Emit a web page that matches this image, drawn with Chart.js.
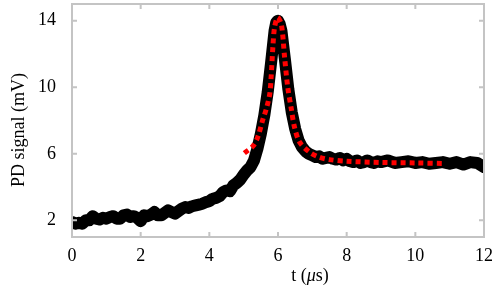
<!DOCTYPE html>
<html>
<head>
<meta charset="utf-8">
<script src="https://cdn.jsdelivr.net/npm/chart.js@4"></script>
<style>
  body { margin: 0; background: #fff; }
</style>
</head>
<body>
<canvas id="chart1" width="498" height="288"></canvas>
<script>
// measured PD signal (black) and fit (red dotted)
const tData = [0, 0.1, 0.2, 0.3, 0.4, 0.5, 0.6, 0.7, 0.8, 0.9,
    1.0, 1.1, 1.2, 1.3, 1.4, 1.5, 1.6, 1.7, 1.8, 1.9,
    2.0, 2.1, 2.2, 2.3, 2.4, 2.5, 2.6, 2.7, 2.8, 2.9,
    3.0, 3.1, 3.2, 3.3, 3.4, 3.5, 3.6, 3.7, 3.8, 3.9,
    4.0, 4.1, 4.2, 4.3, 4.4, 4.5, 4.6, 4.7, 4.8, 4.9,
    5.0, 5.1, 5.2, 5.3, 5.4, 5.5, 5.6, 5.7, 5.8, 5.9, 5.95,
    6.0, 6.05, 6.1, 6.2, 6.3, 6.4, 6.5, 6.6, 6.7, 6.8, 6.9,
    7.0, 7.1, 7.2, 7.3, 7.4, 7.5, 7.6, 7.7, 7.8, 7.9,
    8.0, 8.1, 8.2, 8.3, 8.4, 8.5, 8.6, 8.7, 8.8, 8.9,
    9.0, 9.2, 9.4, 9.6, 9.8, 10.0, 10.2, 10.4, 10.6, 10.8,
    11.0, 11.2, 11.4, 11.6, 11.8, 12.0]
const signal = [1.9, 1.8, 1.85, 1.8, 2.0, 2.0, 2.25, 2.1, 2.05, 2.15,
    2.1, 2.2, 2.25, 2.1, 2.1, 2.3, 2.35, 2.2, 2.25, 2.15,
    1.95, 2.3, 2.25, 2.35, 2.5, 2.3, 2.3, 2.45, 2.6, 2.5,
    2.4, 2.55, 2.7, 2.8, 2.75, 2.85, 2.9, 2.95, 3.0, 3.1,
    3.15, 3.3, 3.35, 3.45, 3.7, 3.8, 3.75, 4.1, 4.25, 4.45,
    4.75, 5.0, 5.2, 5.6, 6.3, 7.2, 8.3, 9.7, 11.5, 13.4, 13.9,
    14.0, 13.8, 13.4, 11.7, 9.9, 8.5, 7.5, 6.8, 6.4, 6.15, 6.0,
    5.9, 5.8, 5.85, 5.7, 5.75, 5.8, 5.7, 5.65, 5.75, 5.6,
    5.7, 5.55, 5.5, 5.6, 5.45, 5.5, 5.6, 5.5, 5.45, 5.55,
    5.5, 5.6, 5.45, 5.5, 5.55, 5.45, 5.5, 5.4, 5.45, 5.5,
    5.4, 5.5, 5.35, 5.5, 5.45, 5.2]

const tFit = [5.02, 5.27, 5.41, 5.56, 5.66, 5.76, 5.8, 5.85, 5.9, 5.99,
    6.1, 6.19, 6.28, 6.39, 6.48, 6.63, 6.92, 7.2, 7.5, 8.0, 9.0, 10.0, 10.85]
const fit = [6.04, 6.46, 7.0, 8.07, 8.7, 9.6, 10.6, 12.4, 13.6, 14.2,
    13.75, 11.85, 10.06, 8.67, 7.6, 6.7, 6.1, 5.8, 5.65, 5.55, 5.48, 5.45, 5.42]

const xTicks = [0, 2, 4, 6, 8, 10, 12]
const yTicks = [2, 6, 10, 14]

const serif = '"Liberation Serif", "Times New Roman", serif'

// frame, inward ticks on all four sides, and axis titles
const framePlugin = {
    id: 'frame',
    afterDraw(chart) {
        const { ctx, chartArea: a, scales } = chart
        ctx.save()
        ctx.strokeStyle = '#c4c4c4'
        ctx.lineWidth = 2
        ctx.strokeRect(a.left, a.top, a.right - a.left, a.bottom - a.top)
        ctx.beginPath()
        xTicks.forEach(v => {
            const x = scales.x.getPixelForValue(v)
            ctx.moveTo(x, a.bottom); ctx.lineTo(x, a.bottom - 5)
            ctx.moveTo(x, a.top); ctx.lineTo(x, a.top + 5)
        })
        yTicks.forEach(v => {
            const y = scales.y.getPixelForValue(v)
            ctx.moveTo(a.left, y); ctx.lineTo(a.left + 5, y)
            ctx.moveTo(a.right, y); ctx.lineTo(a.right - 5, y)
        })
        ctx.stroke()

        ctx.fillStyle = '#000'
        ctx.textBaseline = 'alphabetic'
        // x title: t (μs) with italic mu
        const parts = [['t (', ''], ['\u03bc', 'italic '], ['s)', '']]
        let total = 0
        parts.forEach(p => { ctx.font = p[1] + '18px ' + serif; total += ctx.measureText(p[0]).width })
        let x = 310 - total / 2
        parts.forEach(p => {
            ctx.font = p[1] + '18px ' + serif
            ctx.textAlign = 'left'
            ctx.fillText(p[0], x, 281)
            x += ctx.measureText(p[0]).width
        })
        // y title
        ctx.translate(24, 130)
        ctx.rotate(-Math.PI / 2)
        ctx.font = '18px ' + serif
        ctx.textAlign = 'center'
        ctx.fillText('PD signal (mV)', 0, 0)
        ctx.restore()
    }
}

const data = {
    datasets: [{
        data: tFit.map((t, i) => ({ x: t, y: fit[i] })),
        borderColor: '#ff0000',
        borderWidth: 5,
        borderDash: [5, 4],
        pointRadius: 0,
        tension: 0.3,
        order: 0
    }, {
        data: tData.map((t, i) => ({ x: t, y: signal[i] })),
        borderColor: '#000',
        borderWidth: 12,
        borderCapStyle: 'round',
        borderJoinStyle: 'round',
        pointRadius: 0,
        order: 1
    }]
}

const options = {
    responsive: false,
    animation: false,
    layout: { padding: { top: 4, right: 14, left: 0, bottom: 0 } },
    plugins: { legend: { display: false }, tooltip: { enabled: false } },
    scales: {
        x: {
            type: 'linear', min: 0, max: 12,
            afterBuildTicks: s => { s.ticks = xTicks.map(v => ({ value: v })) },
            afterFit: s => { s.height = 51; s.paddingLeft = 0; s.paddingRight = 0 },
            grid: { display: false },
            border: { display: false },
            ticks: { color: '#000', font: { family: serif, size: 18 }, padding: 0 }
        },
        y: {
            type: 'linear', min: 1, max: 15,
            afterBuildTicks: s => { s.ticks = yTicks.map(v => ({ value: v })) },
            afterFit: s => { s.width = 72; s.paddingTop = 0; s.paddingBottom = 0 },
            grid: { display: false },
            border: { display: false },
            ticks: { color: '#000', font: { family: serif, size: 18 }, padding: 8 }
        }
    }
}

new Chart('chart1', { type: 'line', data, options, plugins: [framePlugin] })
</script>
</body>
</html>
